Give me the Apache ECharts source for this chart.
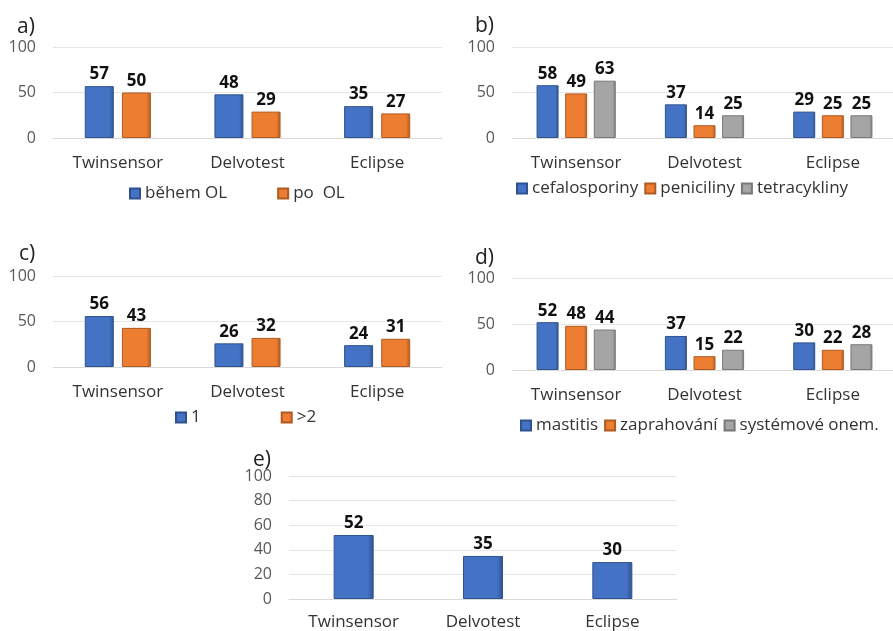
<!DOCTYPE html>
<html>
<head>
<meta charset="utf-8">
<script src="https://cdn.jsdelivr.net/npm/echarts@6/dist/echarts.min.js"></script>
<style>
  html, body { margin: 0; padding: 0; background: #fff; }
  #chart { width: 893px; height: 631px; }
</style>
</head>
<body>
<div id="chart"></div>
<script>
// Categories shared by all five panels
const categories = ['Twinsensor', 'Delvotest', 'Eclipse'];

// a) během / po OL
const aDuring = [57, 48, 35];
const aAfter = [50, 29, 27];

// b) antibiotic groups
const bCefalo = [58, 37, 29];
const bPenic = [49, 14, 25];
const bTetra = [63, 25, 25];

// c) number of treatments
const cOne = [56, 26, 24];
const cMore = [43, 32, 31];

// d) disease type
const dMastitis = [52, 37, 30];
const dDryOff = [48, 15, 22];
const dSystemic = [44, 22, 28];

// e) overall
const eTotal = [52, 35, 30];

const FONT = '"Open Sans", "DejaVu Sans", sans-serif';
const BLUE = '#4472C4', ORANGE = '#ED7D31', GRAY = '#A5A5A5';
const BORDER = { [BLUE]: '#2F528F', [ORANGE]: '#AE5A21', [GRAY]: '#787878' };

function barSeries(name, data, color, idx, width, gap) {
  return {
    type: 'bar',
    name: name,
    data: data,
    xAxisIndex: idx,
    yAxisIndex: idx,
    barWidth: width,
    barGap: gap,
    itemStyle: {
      color: {
        type: 'linear', x: 0, y: 0, x2: 1, y2: 0,
        colorStops: [
          { offset: 0, color: color },
          { offset: 0.85, color: color },
          { offset: 1, color: BORDER[color] }
        ]
      },
      borderColor: BORDER[color],
      borderWidth: 1
    },
    label: {
      show: true,
      position: 'top',
      distance: 3,
      fontFamily: FONT,
      fontWeight: 'bold',
      fontSize: 17,
      color: '#111'
    }
  };
}

// plot areas for the five panels (fixed boxes, labels may run to the edge)
const grids = [
  { left: 53, top: 47, width: 389, height: 91 },
  { left: 512, top: 47, width: 385, height: 91 },
  { left: 53, top: 276, width: 389, height: 91 },
  { left: 512, top: 278, width: 385, height: 92 },
  { left: 289, top: 476, width: 388, height: 123 }
].map(g => Object.assign(g, { outerBoundsMode: 'none', containLabel: false }));

const xAxes = grids.map((g, i) => ({
  type: 'category',
  gridIndex: i,
  data: categories,
  axisTick: { show: false },
  axisLine: { lineStyle: { color: '#d9d9d9' } },
  axisLabel: { fontFamily: FONT, fontSize: 17, color: '#333', margin: i === 4 ? 15 : 17 }
}));

const yAxes = grids.map((g, i) => ({
  type: 'value',
  gridIndex: i,
  min: 0,
  max: 100,
  interval: i === 4 ? 20 : 50,
  axisLine: { show: false },
  axisTick: { show: false },
  splitLine: { lineStyle: { color: '#e6e6e6' } },
  axisLabel: { fontFamily: FONT, fontSize: 16, color: '#595959', margin: 17 }
}));

const panelTitles = [
  { text: 'a)', left: 12, top: 12 },
  { text: 'b)', left: 470, top: 11 },
  { text: 'c)', left: 14, top: 239 },
  { text: 'd)', left: 470, top: 243 },
  { text: 'e)', left: 248, top: 445 }
].map(t => Object.assign(t, {
  textStyle: { fontFamily: FONT, fontSize: 21, fontWeight: 'normal', color: '#222' }
}));

const legendText = { fontFamily: FONT, fontSize: 17, color: '#333' };
const legends = [
  { data: ['během OL', 'po  OL'], left: 124, top: 180, itemGap: 50 },
  { data: ['cefalosporiny', 'peniciliny', 'tetracykliny'], left: 511, top: 175, itemGap: 6 },
  { data: ['1', '>2'], left: 170, top: 404, itemGap: 80 },
  { data: ['mastitis', 'zaprahování', 'systémové onem.'], left: 515, top: 412, itemGap: 6 }
].map(l => Object.assign(l, {
  itemWidth: 10,
  itemHeight: 10,
  icon: 'rect',
  textStyle: legendText
}));

const series = [
  barSeries('během OL', aDuring, BLUE, 0, 29, '28%'),
  barSeries('po  OL', aAfter, ORANGE, 0, 29, '28%'),
  barSeries('cefalosporiny', bCefalo, BLUE, 1, 22, '30%'),
  barSeries('peniciliny', bPenic, ORANGE, 1, 22, '30%'),
  barSeries('tetracykliny', bTetra, GRAY, 1, 22, '30%'),
  barSeries('1', cOne, BLUE, 2, 29, '28%'),
  barSeries('>2', cMore, ORANGE, 2, 29, '28%'),
  barSeries('mastitis', dMastitis, BLUE, 3, 22, '30%'),
  barSeries('zaprahování', dDryOff, ORANGE, 3, 22, '30%'),
  barSeries('systémové onem.', dSystemic, GRAY, 3, 22, '30%'),
  barSeries('celkem', eTotal, BLUE, 4, 40, '30%')
];

const chart = echarts.init(document.getElementById('chart'), null, { renderer: 'canvas' });
chart.setOption({
  backgroundColor: '#fff',
  animation: false,
  title: panelTitles,
  legend: legends,
  grid: grids,
  xAxis: xAxes,
  yAxis: yAxes,
  series: series
});
</script>
</body>
</html>
